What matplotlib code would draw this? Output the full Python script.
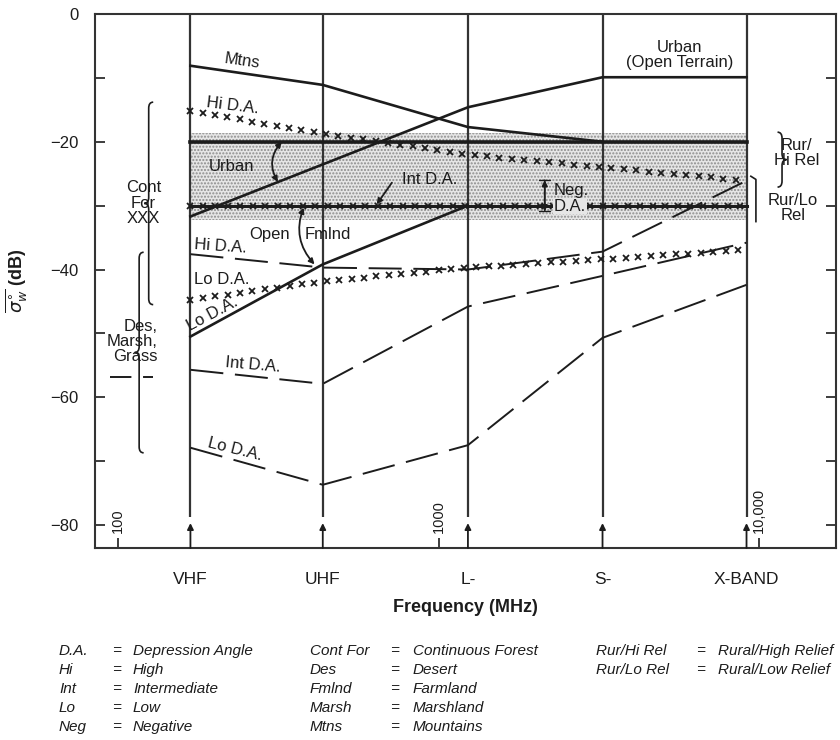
import numpy as np
import matplotlib
matplotlib.use('Agg')
import matplotlib.pyplot as plt
from matplotlib.path import Path
from matplotlib.patches import PathPatch
from matplotlib.transforms import IdentityTransform
from matplotlib.ticker import MultipleLocator, NullLocator

plt.rcParams['font.family'] = ['Liberation Sans', 'DejaVu Sans']
INK = '#1c1c1c'

# --- data (dB at each band) ---
bands = ['VHF', 'UHF', 'L-', 'S-', 'X-BAND']
band_mhz = [168, 435, 1235, 3250, 9150]

mtns_mhz = [168, 435, 1235, 3250]
mtns_db = [-8.1, -11.1, -17.7, -20.0]

urban_mhz = [168, 1235, 3250, 9150]
urban_db = [-31.7, -14.6, -9.9, -9.9]

forest_hi_db = [-15.2, -18.7, -22.0, -24.0, -26.1]
forest_int_db = [-30.0, -30.0, -30.0, -30.0, -30.0]
forest_lo_db = [-44.7, -41.9, -39.7, -38.4, -36.9]
rur_hi_db = [-20.0, -20.0, -20.0, -20.0, -20.0]

open_mhz = [168, 435, 1235]
open_db = [-50.5, -39.2, -30.0]

des_hi_db = [-37.6, -39.7, -40.0, -37.2, -26.1]
des_int_db = [-55.7, -57.9, -45.8, -41.0, -35.8]
des_lo_db = [-67.9, -73.7, -67.5, -50.7, -42.4]

stipple_lo, stipple_hi = -32.3, -18.7

freq_ticks = [100, 1000, 10000]
freq_tick_labels = ['100', '1000', '10,000']

abbr_cols = [
    [('D.A.', 'Depression Angle'), ('Hi', 'High'), ('Int', 'Intermediate'),
     ('Lo', 'Low'), ('Neg', 'Negative')],
    [('Cont For', 'Continuous Forest'), ('Des', 'Desert'), ('Fmlnd', 'Farmland'),
     ('Marsh', 'Marshland'), ('Mtns', 'Mountains')],
    [('Rur/Hi Rel', 'Rural/High Relief'), ('Rur/Lo Rel', 'Rural/Low Relief')],
]

W, H = 840, 740
fig = plt.figure(figsize=(W / 100, H / 100), dpi=100)
ax = fig.add_axes([95 / W, 1 - 548 / H, 741 / W, 534 / H])
ax.set_xscale('log')
ax.set_xlim(84.6, 17410)
ax.set_ylim(-83.6, 0)


def xmarks(f, db, step=12.5, line=False, **kw):
    # 'x' markers spaced evenly along the drawn polyline (a line style)
    pts = ax.transData.transform(np.column_stack([f, db]))
    s = np.concatenate([[0], np.cumsum(np.hypot(*np.diff(pts, axis=0).T))])
    t = np.arange(0, s[-1] + 0.5, step)
    xy = np.column_stack([np.interp(t, s, pts[:, 0]), np.interp(t, s, pts[:, 1])])
    xy = ax.transData.inverted().transform(xy)
    ax.plot(xy[:, 0], xy[:, 1], ls='none', marker='x', ms=4.2, mew=1.3,
            color=INK, zorder=4, **kw)
    if line:
        ax.plot(f, db, color=INK, lw=2.2, zorder=4)


def brace(f, db_top, db_bot, w=9, r=6, side='left', lw=1.2):
    xt, yt = ax.transData.transform((f, db_top))
    _, yb = ax.transData.transform((f, db_bot))
    sg = 1 if side == 'left' else -1
    xs, xe = xt + sg * w / 2, xt + sg * w
    ym = (yt + yb) / 2
    verts = [(xe, yt), (xs, yt), (xs, yt - r), (xs, ym + r), (xs, ym), (xt, ym),
             (xs, ym), (xs, ym - r), (xs, yb + r), (xs, yb), (xe, yb)]
    codes = [Path.MOVETO, Path.CURVE3, Path.CURVE3, Path.LINETO, Path.CURVE3,
             Path.CURVE3, Path.CURVE3, Path.CURVE3, Path.LINETO, Path.CURVE3, Path.CURVE3]
    ax.add_patch(PathPatch(Path(verts, codes), transform=IdentityTransform(),
                           fill=False, lw=lw, color=INK, clip_on=False))


# stippled band
ax.fill_between([band_mhz[0], band_mhz[-1]], stipple_lo, stipple_hi,
                facecolor='#e6e6e6', hatch='.....', edgecolor='#8c8c8c',
                linewidth=0, zorder=1)

# band lines + arrows
ax.vlines(band_mhz, -78.7, 0, colors='#333333', lw=1.6, zorder=2)
for f, name in zip(band_mhz, bands):
    ax.annotate('', xy=(f, -79.7), xytext=(f, -83.6),
                arrowprops=dict(arrowstyle='-|>', color=INK, lw=1.3,
                                mutation_scale=9, shrinkA=0, shrinkB=0),
                annotation_clip=False)
    ax.text(f, -88.5, name, ha='center', va='center', fontsize=12.5, color=INK,
            clip_on=False)

# solid lines
ax.plot(mtns_mhz, mtns_db, color=INK, lw=1.9, zorder=3)
ax.plot(urban_mhz, urban_db, color=INK, lw=1.9, zorder=3)
ax.plot(band_mhz, rur_hi_db, color=INK, lw=2.6, zorder=3)
ax.plot(open_mhz, open_db, color=INK, lw=1.9, zorder=3)

# x-marked lines (Cont For)
xmarks(band_mhz, forest_hi_db)
xmarks(band_mhz, forest_int_db, line=True)
xmarks(band_mhz, forest_lo_db)

# dashed lines (Des, Marsh, Grass)
for db in (des_hi_db, des_int_db, des_lo_db):
    ax.plot(band_mhz, db, color=INK, lw=1.4, ls=(0, (17, 6)), zorder=3)

# in-plot labels
fs = 12
ax.text(243, -7.3, 'Mtns', fontsize=fs, rotation=-8, ha='center', va='center', color=INK)
ax.text(228, -14.4, 'Hi D.A.', fontsize=fs, rotation=-7, ha='center', va='center', color=INK)
ax.text(226, -23.8, 'Urban', fontsize=fs, ha='center', va='center', color=INK)
ax.text(940, -25.9, 'Int D.A.', fontsize=fs, ha='center', va='center', color=INK)
ax.text(297, -34.5, 'Open', fontsize=fs, ha='center', va='center', color=INK)
ax.text(450, -34.5, 'Fmlnd', fontsize=fs, ha='center', va='center', color=INK)
ax.text(208, -36.3, 'Hi D.A.', fontsize=fs, rotation=-4, ha='center', va='center', color=INK)
ax.text(211, -41.6, 'Lo D.A.', fontsize=fs, ha='center', va='center', color=INK)
ax.text(197, -47.0, 'Lo D.A.', fontsize=fs, rotation=28, ha='center', va='center', color=INK)
ax.text(263, -55.0, 'Int D.A.', fontsize=fs, rotation=-5, ha='center', va='center', color=INK)
ax.text(231, -68.2, 'Lo D.A.', fontsize=fs, rotation=-14, ha='center', va='center', color=INK)
ax.text(5660, -6.4, 'Urban\n(Open Terrain)', fontsize=fs, ha='center', va='center',
        linespacing=1.0, color=INK)
ax.text(13100, -21.8, 'Rur/\nHi Rel', fontsize=fs, ha='center', va='center',
        linespacing=1.0, color=INK)
ax.text(12750, -30.4, 'Rur/Lo\nRel', fontsize=fs, ha='center', va='center',
        linespacing=1.0, color=INK)
ax.text(120, -29.6, 'Cont\nFor\nXXX', fontsize=fs, ha='center', va='center',
        linespacing=1.05, color=INK)
ax.text(133, -51.3, 'Des,\nMarsh,\nGrass', fontsize=fs, ha='right', va='center',
        linespacing=1.0, color=INK)
ax.plot([94, 128], [-56.9, -56.9], color=INK, lw=1.4, ls=(0, (11, 6)))
ax.text(2290, -27.6, 'Neg.', fontsize=fs, ha='left', va='center', color=INK)
ax.text(2290, -30.1, 'D.A.', fontsize=fs, ha='left', va='center', color=INK, zorder=5,
        bbox=dict(facecolor='#e6e6e6', edgecolor='none', pad=0.5))

# braces and brackets
brace(120.5, -13.8, -45.5, side='left')
brace(112.5, -37.3, -68.7, side='left')
brace(12200, -18.5, -27.1, side='right')
ax.plot([9440, 9790, 9790], [-25.4, -25.9, -32.5], color=INK, lw=1.2)

# arrows
arw = dict(color=INK, lw=1.3, mutation_scale=8, shrinkA=0, shrinkB=0)
ax.annotate('', xy=(324, -20.0), xytext=(315, -26.3),
            arrowprops=dict(arrowstyle='<|-|>', connectionstyle='arc3,rad=-0.35', **arw))
ax.annotate('', xy=(379, -30.3), xytext=(410, -39.2),
            arrowprops=dict(arrowstyle='<|-|>', connectionstyle='arc3,rad=-0.3', **arw))
ax.annotate('', xy=(641, -29.8), xytext=(715, -26.4),
            arrowprops=dict(arrowstyle='-|>', **arw))
ax.annotate('', xy=(2145, -26.0), xytext=(2145, -30.9),
            arrowprops=dict(arrowstyle='<|-|>', **arw))
ax.annotate('', xy=(2145, -26.0), xytext=(2145, -30.9),
            arrowprops=dict(arrowstyle='|-|', color=INK, lw=1.0, mutation_scale=4,
                            shrinkA=0, shrinkB=0))

# axes styling
ax.set_yticks(np.arange(-80, 1, 20))
ax.yaxis.set_minor_locator(MultipleLocator(10))
ax.tick_params(axis='y', which='both', direction='in', length=7, width=1.2,
               left=True, right=True, labelsize=12, pad=12, colors=INK)
ax.set_xticks(freq_ticks)
ax.xaxis.set_minor_locator(NullLocator())
ax.tick_params(axis='x', direction='in', length=7, width=1.2, labelbottom=False,
               colors=INK)
for f, lab in zip(freq_ticks, freq_tick_labels):
    ax.text(f, -81.3, lab, rotation=90, ha='center', va='bottom', fontsize=10.5, color=INK)
for sp in ax.spines.values():
    sp.set_linewidth(1.5)
    sp.set_color('#333333')

ax.set_ylabel(r'$\overline{\sigma^{\circ}_{w}}$ (dB)', fontsize=13, fontweight='bold', color=INK)
ax.yaxis.set_label_coords(-0.088, 0.5)
fig.text(465 / W, 1 - 608 / H, 'Frequency (MHz)', ha='center', va='center',
         fontsize=13, fontweight='bold', color=INK)

# abbreviation key
col_x = [(59, 112, 133), (310, 390, 413), (596, 696, 718)]
row_y = [651, 670, 689, 708, 727]
for (xa, xe, xd), items in zip(col_x, abbr_cols):
    for (a, d), y in zip(items, row_y):
        for x, s in ((xa, a), (xe, '='), (xd, d)):
            fig.text(x / W, 1 - y / H, s, ha='left', va='center', fontsize=11,
                     style='italic', color=INK)

fig.savefig('out.png', dpi=100)
